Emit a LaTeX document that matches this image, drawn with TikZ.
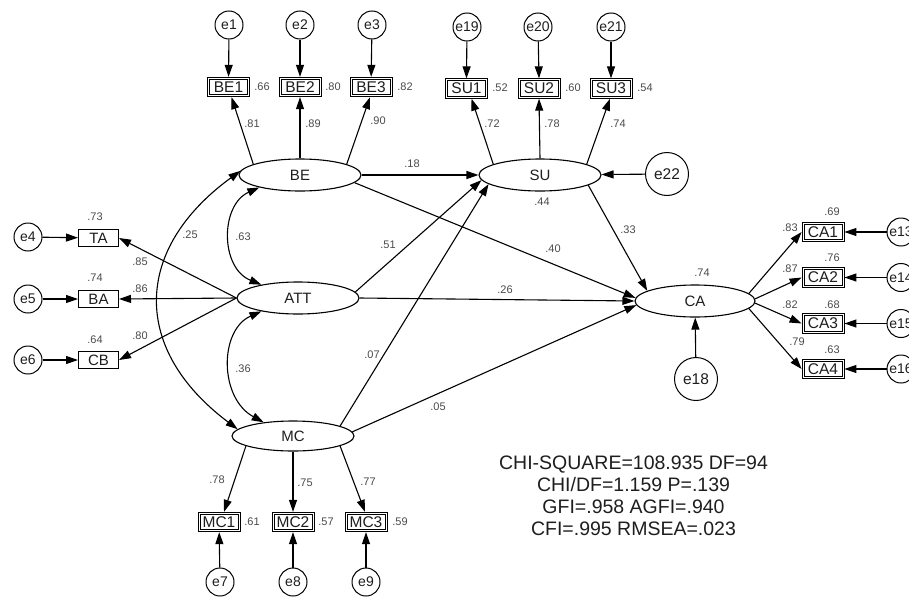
\documentclass[tikz,border=0pt]{standalone}
\usepackage{fontspec}
\setmainfont{Liberation Sans}
\usetikzlibrary{shapes.geometric,arrows.meta}
\definecolor{numc}{HTML}{4A4A4A}
\definecolor{txtc}{HTML}{1E1E1E}
\begin{document}
\begin{tikzpicture}[x=1pt,y=-1pt,
  lat/.style={ellipse, draw, line width=1.1pt, minimum width=122pt, minimum height=32pt, inner sep=0pt, font=\fontsize{15}{15}\selectfont, text=txtc},
  obs/.style={rectangle, draw, line width=0.8pt, minimum width=42pt, minimum height=19.5pt, inner sep=0pt, font=\fontsize{15.5}{15.5}\selectfont, text=txtc,
    path picture={\draw[line width=0.8pt] ([shift={(2.1pt,-2.1pt)}]path picture bounding box.north west) rectangle ([shift={(-2.1pt,2.1pt)}]path picture bounding box.south east);}},
  obss/.style={rectangle, draw, line width=1pt, minimum width=40pt, minimum height=17pt, inner sep=0pt, font=\fontsize{15}{15}\selectfont, text=txtc},
  err/.style={circle, draw, line width=1pt, minimum size=28pt, inner sep=0pt, font=\fontsize{14}{14}\selectfont, text=txtc},
  errb/.style={err, minimum size=43pt, font=\fontsize{15.5}{15.5}\selectfont},
  coef/.style={font=\fontsize{11}{11}\selectfont, text=numc, inner sep=0pt},
  arr/.style={-{Triangle[length=12pt,width=8pt]}, line width=1.1pt},
  tobox/.style={arr},
  darr/.style={{Triangle[length=12pt,width=8pt]}-{Triangle[length=12pt,width=8pt]}, line width=1.1pt}]
\useasboundingbox (0,0) rectangle (909,597);

% latent variables
\node[lat] (BE) at (300,175) {BE};
\node[lat] (SU) at (540,175) {SU};
\node[lat] (ATT) at (298,298) {ATT};
\node[lat, minimum height=30pt] (MC) at (293,436) {MC};
\node[lat, minimum width=120pt] (CA) at (695,301) {CA};

% observed variables
\node[obs] (BE1) at (228.5,87) {BE1};
\node[obs] (BE2) at (300,87) {BE2};
\node[obs] (BE3) at (371,87) {BE3};
\node[obs] (SU1) at (466.5,88.5) {SU1};
\node[obs] (SU2) at (539,88.5) {SU2};
\node[obs] (SU3) at (611,88.5) {SU3};
\node[obss] (TA) at (98.5,238) {TA};
\node[obss] (BA) at (98.5,299) {BA};
\node[obss] (CB) at (98.5,360) {CB};
\node[obs] (MC1) at (219,522) {MC1};
\node[obs] (MC2) at (293,522) {MC2};
\node[obs] (MC3) at (366,522) {MC3};
\node[obs] (CA1) at (823,232) {CA1};
\node[obs] (CA2) at (823,277.5) {CA2};
\node[obs] (CA3) at (823,323.5) {CA3};
\node[obs] (CA4) at (823,369) {CA4};

% error terms
\node[err] (e1) at (229,25) {e1};
\node[err] (e2) at (300,25) {e2};
\node[err] (e3) at (372,25) {e3};
\node[err] (e19) at (467,27) {e19};
\node[err] (e20) at (538,27) {e20};
\node[err] (e21) at (611,27) {e21};
\node[err] (e4) at (28,237) {e4};
\node[err] (e5) at (28,299) {e5};
\node[err] (e6) at (28,360) {e6};
\node[err] (e7) at (220,582) {e7};
\node[err] (e8) at (293,582) {e8};
\node[err] (e9) at (366,582) {e9};
\node[err] (e13) at (901,232) {e13};
\node[err] (e14) at (901,277.5) {e14};
\node[err] (e15) at (901,323.5) {e15};
\node[err] (e16) at (901,369) {e16};
\node[errb] (e18) at (696,379) {e18};
\node[errb] (e22) at (667,174) {e22};

% error arrows
\draw[tobox] (e1) -- (BE1);
\draw[tobox] (e2) -- (BE2);
\draw[tobox] (e3) -- (BE3);
\draw[tobox] (e19) -- (SU1.north);
\draw[tobox] (e20) -- (SU2.north);
\draw[tobox] (e21) -- (SU3.north);
\draw[arr] (e4) -- (TA);
\draw[arr] (e5) -- (BA);
\draw[arr] (e6) -- (CB);
\draw[tobox] (e7) -- (MC1);
\draw[tobox] (e8) -- (MC2);
\draw[tobox] (e9) -- (MC3);
\draw[tobox] (e13) -- (CA1);
\draw[tobox] (e14) -- (CA2);
\draw[tobox] (e15) -- (CA3);
\draw[tobox] (e16) -- (CA4);
\draw[arr] (e18) -- (CA);
\draw[arr] (e22) -- (SU);

% loadings
\draw[tobox] (BE.167) -- ([xshift=3pt]BE1.south);
\draw[tobox] (BE.north) -- (BE2.south);
\draw[tobox] (BE.13) -- ([xshift=-1pt]BE3.south);
\draw[tobox] (SU.167) -- ([xshift=5pt]SU1.south);
\draw[tobox] (SU.north) -- (SU2.south);
\draw[tobox] (SU.13) -- ([xshift=-1pt]SU3.south);
\draw[arr] (ATT.west) -- (TA.east);
\draw[arr] (ATT.west) -- (BA.east);
\draw[arr] (ATT.west) -- (CB.east);
\draw[tobox] (MC.192) -- ([xshift=5pt]MC1.north);
\draw[tobox] (MC.south) -- (MC2.north);
\draw[tobox] (MC.-12) -- ([xshift=-1pt]MC3.north);
\draw[tobox] (CA.8) -- (CA1.west);
\draw[tobox] (CA.2) -- (CA2.west);
\draw[tobox] (CA.-2) -- (CA3.west);
\draw[tobox] (CA.-8) -- (CA4.west);

% structural paths
\draw[arr] (BE.east) -- (SU.west);
\draw[arr] (BE.-8) -- (CA.177);
\draw[arr] (ATT.6) -- (SU.185);
\draw[arr] (ATT.east) -- (CA.west);
\draw[arr] (MC.12) -- (SU.190);
\draw[arr] (MC.4) -- (CA.184);
\draw[arr] (SU.-12) -- (CA.168);

% covariances
\draw[darr] (BE.176) .. controls (132,250) and (132,350) .. (MC.173);
\draw[darr] (BE.197) .. controls (220,205) and (220,268) .. (ATT.160);
\draw[darr] (ATT.200) .. controls (219,330) and (219,398) .. (MC.155);

% coefficients
\node[coef] (c1) at (252,124) {.81};
\node[coef] (c2) at (313,124) {.89};
\node[coef] (c3) at (378,121) {.90};
\node[coef] (r1) at (262,87) {.66};
\node[coef] (r2) at (333,87) {.80};
\node[coef] (r3) at (405,87) {.82};
\node[coef] (c4) at (492,124) {.72};
\node[coef] (c5) at (552,124) {.78};
\node[coef] (c6) at (618,124) {.74};
\node[coef] (r4) at (500,88) {.52};
\node[coef] (r5) at (573,88) {.60};
\node[coef] (r6) at (645,88) {.54};
\node[coef] (r7) at (95,217) {.73};
\node[coef] (r8) at (95,278) {.74};
\node[coef] (r9) at (95,340) {.64};
\node[coef] (c7) at (140,262) {.85};
\node[coef] (c8) at (140,289) {.86};
\node[coef] (c9) at (140,336) {.80};
\node[coef] (k1) at (190,235) {.25};
\node[coef] (k2) at (243,237) {.63};
\node[coef] (k3) at (243,369) {.36};
\node[coef] (c10) at (217,480) {.78};
\node[coef] (c11) at (305,483) {.75};
\node[coef] (c12) at (368,482) {.77};
\node[coef] (r10) at (252,522) {.61};
\node[coef] (r11) at (326,522) {.57};
\node[coef] (r12) at (400,522) {.59};
\node[coef] (s1) at (412,164) {.18};
\node[coef] (s2) at (553,249) {.40};
\node[coef] (s3) at (388,245) {.51};
\node[coef] (s4) at (505,290) {.26};
\node[coef] (s5) at (372,355) {.07};
\node[coef] (s6) at (438,407) {.05};
\node[coef] (s7) at (542,202) {.44};
\node[coef] (s8) at (628,230) {.33};
\node[coef] (s9) at (702,273) {.74};
\node[coef] (r13) at (832,212) {.69};
\node[coef] (r14) at (832,258) {.76};
\node[coef] (r15) at (832,305) {.68};
\node[coef] (r16) at (832,350) {.63};
\node[coef] (c13) at (790,228) {.83};
\node[coef] (c14) at (790,269) {.87};
\node[coef] (c15) at (790,305) {.82};
\node[coef] (c16) at (797,342) {.79};

% fit statistics
\node[font=\fontsize{19.5}{22}\selectfont, align=center, text=txtc, inner sep=0pt] (fit) at (633.5,496)
  {CHI-SQUARE=108.935 DF=94\\CHI/DF=1.159 P=.139\\GFI=.958 AGFI=.940\\CFI=.995 RMSEA=.023};
\end{tikzpicture}
\end{document}
